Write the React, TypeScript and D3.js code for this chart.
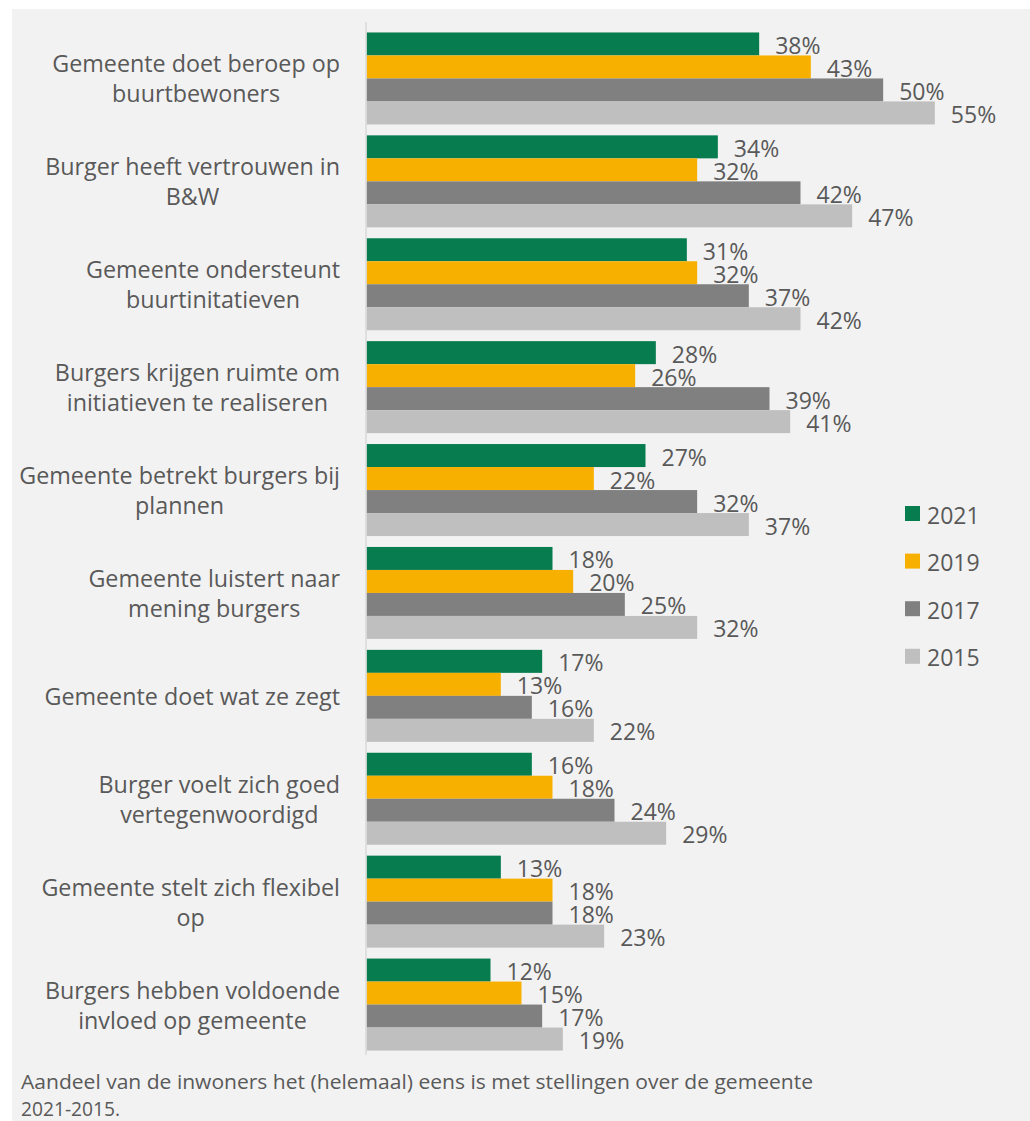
import React, { useEffect, useRef } from "react";
import * as d3 from "d3";

const categories: string[][] = [
  ["Gemeente doet beroep op", "buurtbewoners"],
  ["Burger heeft vertrouwen in", "B&W"],
  ["Gemeente ondersteunt", "buurtinitatieven"],
  ["Burgers krijgen ruimte om", "initiatieven te realiseren"],
  ["Gemeente betrekt burgers bij", "plannen"],
  ["Gemeente luistert naar", "mening burgers"],
  ["Gemeente doet wat ze zegt"],
  ["Burger voelt zich goed", "vertegenwoordigd"],
  ["Gemeente stelt zich flexibel", "op"],
  ["Burgers hebben voldoende", "invloed op gemeente"],
];

const years = ["2021", "2019", "2017", "2015"];
const colors = ["#077C4E", "#F8B000", "#808080", "#BFBFBF"];

const values2021 = [38, 34, 31, 28, 27, 18, 17, 16, 13, 12];
const values2019 = [43, 32, 32, 26, 22, 20, 13, 18, 18, 15];
const values2017 = [50, 42, 37, 39, 32, 25, 16, 24, 18, 17];
const values2015 = [55, 47, 42, 41, 37, 32, 22, 29, 23, 19];

const series = [values2021, values2019, values2017, values2015];

const caption = [
  "Aandeel van de inwoners het (helemaal) eens is met stellingen over de gemeente",
  "2021-2015.",
];

const FONT = "'Open Sans', 'Noto Sans', sans-serif";
const TEXT = "#595959";

export default function App() {
  const ref = useRef<SVGSVGElement>(null);

  useEffect(() => {
    const svg = d3.select(ref.current);
    svg.selectAll("*").remove();

    svg
      .append("rect")
      .attr("x", 12)
      .attr("y", 9)
      .attr("width", 1030 - 12)
      .attr("height", 1121 - 9)
      .attr("fill", "#F2F2F2");

    const idx = categories.map((_, i) => String(i));
    const y = d3
      .scaleBand<string>()
      .domain(idx)
      .range([27, 1056])
      .paddingInner(0.106)
      .paddingOuter(0.053);
    const ySub = d3
      .scaleBand<string>()
      .domain(years)
      .range([0, y.bandwidth()]);
    const x = d3.scaleLinear().domain([0, 60]).range([366.5, 366.5 + 620]);

    const groups = svg
      .append("g")
      .selectAll("g")
      .data(idx)
      .join("g")
      .attr("transform", (d) => `translate(0,${y(d)})`);

    years.forEach((yr, s) => {
      groups
        .append("rect")
        .attr("x", x(0))
        .attr("y", ySub(yr)!)
        .attr("width", (d) => x(series[s][+d]) - x(0))
        .attr("height", ySub.bandwidth())
        .attr("fill", colors[s]);
      groups
        .append("text")
        .attr("x", (d) => x(series[s][+d]) + 16)
        .attr("y", ySub(yr)! + ySub.bandwidth() / 2 + 1)
        .attr("dominant-baseline", "central")
        .attr("font-family", FONT)
        .attr("font-size", 23)
        .attr("fill", TEXT)
        .text((d) => `${series[s][+d]}%`);
    });

    // axis line
    svg
      .append("line")
      .attr("x1", 366)
      .attr("x2", 366)
      .attr("y1", 22)
      .attr("y2", 1055)
      .attr("stroke", "#D9D9D9")
      .attr("stroke-width", 1.5);

    // category labels
    const lblG = svg.append("g");
    categories.forEach((lines, i) => {
      const cy = y(String(i))! + y.bandwidth() / 2;
      const t = lblG
        .append("text")
        .attr("font-family", FONT)
        .attr("font-size", 23.3)
        .attr("fill", TEXT)
        .attr("text-anchor", "middle");
      const tspans = lines.map((ln, j) =>
        t
          .append("tspan")
          .attr("y", cy + (j - (lines.length - 1) / 2) * 30)
          .attr("dominant-baseline", "central")
          .text(ln)
      );
      const widths = tspans.map((ts) =>
        (ts.node() as SVGTextContentElement).getComputedTextLength()
      );
      const maxW = Math.max(...widths);
      const cx = 340 - maxW / 2;
      tspans.forEach((ts) => ts.attr("x", cx));
    });

    // legend
    const leg = svg.append("g");
    years.forEach((yr, i) => {
      const cy = 513.5 + i * 47.6;
      leg
        .append("rect")
        .attr("x", 905)
        .attr("y", cy - 7.5)
        .attr("width", 15)
        .attr("height", 15)
        .attr("fill", colors[i]);
      leg
        .append("text")
        .attr("x", 927)
        .attr("y", cy + 1)
        .attr("dominant-baseline", "central")
        .attr("font-family", FONT)
        .attr("font-size", 23)
        .attr("fill", TEXT)
        .text(yr);
    });

    // caption
    svg
      .append("text")
      .attr("x", 21)
      .attr("y", 1089)
      .attr("font-family", FONT)
      .attr("font-size", 19.5)
      .attr("fill", TEXT)
      .attr("textLength", 792)
      .attr("lengthAdjust", "spacingAndGlyphs")
      .text(caption[0]);
    svg
      .append("text")
      .attr("x", 21)
      .attr("y", 1115.5)
      .attr("font-family", FONT)
      .attr("font-size", 19.5)
      .attr("fill", TEXT)
      .attr("textLength", 99)
      .attr("lengthAdjust", "spacingAndGlyphs")
      .text(caption[1]);
  }, []);

  return (
    <svg
      ref={ref}
      width={1030}
      height={1121}
      style={{ position: "absolute", left: 0, top: 0, display: "block" }}
    />
  );
}
